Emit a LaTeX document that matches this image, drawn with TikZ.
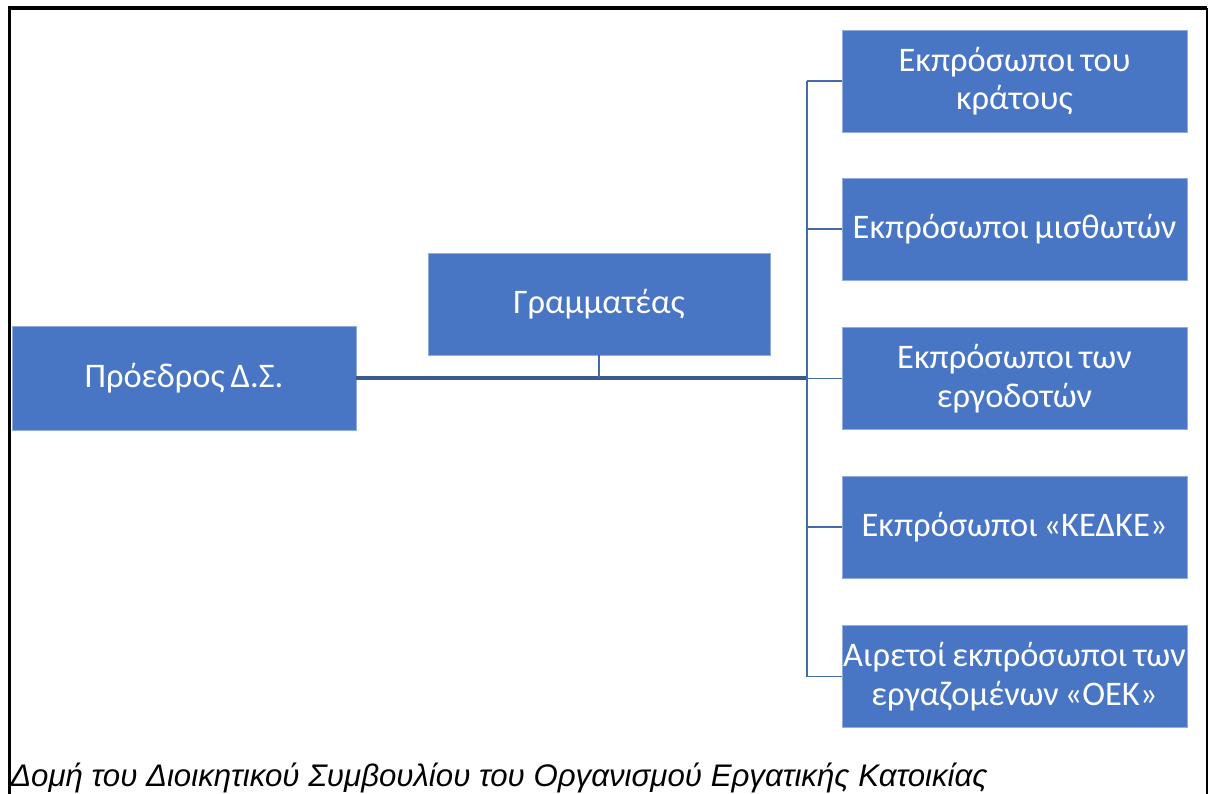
\documentclass[tikz,border=0pt]{standalone}
\usepackage{fontspec}
\setmainfont{Carlito}
\newfontfamily\captfont{Liberation Sans}
\newcommand\boxfont{\fontsize{24.5}{27.5}\selectfont\spaceskip 0.17em plus 0.04em\relax}
\definecolor{boxblue}{RGB}{72,118,196}
\definecolor{lineblue}{RGB}{68,106,168}
\tikzset{block/.style = {fill=boxblue, draw=boxblue!60!white, thin, rectangle, inner sep=0pt, minimum height=2.55cm, minimum width=8.6cm, align=center, text=white, font=\boxfont},
         link/.style={draw=lineblue, line width=1pt},
         trunk/.style={draw=lineblue!85!black, line width=2.4pt}}
\begin{document}
\begin{tikzpicture}[x=0.025cm,y=-0.025cm]
        \useasboundingbox (0,0) rectangle (1210,794);
        % frame
        \draw[line width=2.2pt](9.5,794)--(9.5,8)--(1207,8);
        \draw[line width=0.8pt](1207,8)--(1207,794);

        \node[block,minimum height=2.6cm](p)at(184,378){Πρόεδρος Δ.Σ.};
        \node[block,minimum width=8.55cm](g)at(599,304){Γραμματέας};

        \node[block,minimum width=8.625cm](r1)at(1014.5,81){Εκπρόσωποι του\\κράτους};
        \node[block,minimum width=8.625cm](r2)at(1014.5,229){Εκπρόσωποι μισθωτών};
        \node[block,minimum width=8.625cm](r3)at(1014.5,378.5){Εκπρόσωποι των\\εργοδοτών};
        \node[block,minimum width=8.625cm](r4)at(1014.5,527){Εκπρόσωποι «ΚΕΔΚΕ»};
        \node[block,minimum width=8.625cm](r5)at(1014.5,676.5){Αιρετοί εκπρόσωποι των\\εργαζομένων «ΟΕΚ»};

        \coordinate(j)at(807,378);
        \coordinate(t)at(599,378);
        \draw[trunk](p.east)--(j);
        \draw[link](g.south)--(t);
        \draw[link](r1.west-|j)--(r5.west-|j);
        \foreach \n in {r1,r2,r3,r4,r5}
          \draw[link](\n.west-|j)--(\n.west);

        \node[anchor=base west,inner sep=0pt,font=\captfont\itshape\fontsize{22.2}{26}\selectfont](cap)at(10,786){Δομή του Διοικητικού Συμβουλίου του Οργανισμού Εργατικής Κατοικίας};
    \end{tikzpicture}
\end{document}
